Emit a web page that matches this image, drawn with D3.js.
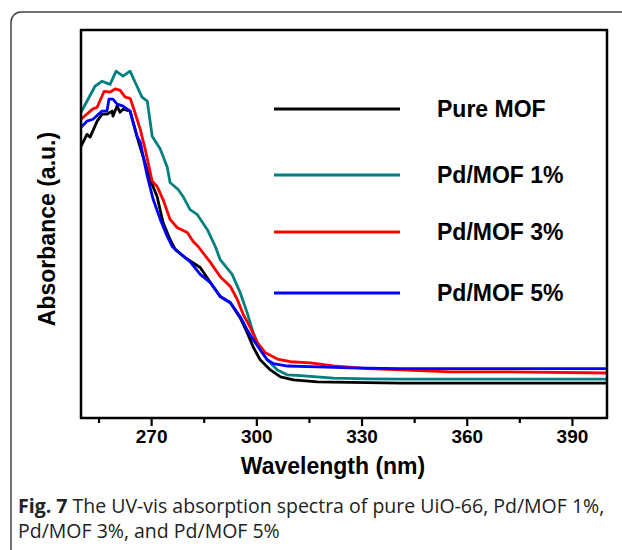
<!DOCTYPE html>
<html>
<head>
<meta charset="utf-8">
<script src="https://cdn.jsdelivr.net/npm/d3@7"></script>
<style>
  body { margin: 0; background: #fff; }
  text { font-family: "Liberation Sans", Arial, sans-serif; }
</style>
</head>
<body>
<div id="chart"></div>
<script>

// spectra (wavelength in nm, absorbance in a.u.)
var pureNm  = [250, 251.7, 252.6, 254.6, 256, 257.4, 258.9, 259.1, 260.3, 261.1, 262, 264, 266, 267.7, 269.7, 271.7, 273.4, 275.4, 276.9, 279.7, 284, 286.9, 289.7, 292.6, 295.4, 297.4, 299.1, 301.1, 304, 306.9, 310.6, 317.4, 341.1, 370, 400];
var pureAbs = [0.700, 0.731, 0.724, 0.765, 0.783, 0.783, 0.791, 0.778, 0.804, 0.788, 0.796, 0.791, 0.724, 0.674, 0.615, 0.571, 0.504, 0.460, 0.434, 0.413, 0.388, 0.349, 0.313, 0.297, 0.258, 0.220, 0.183, 0.150, 0.124, 0.106, 0.098, 0.093, 0.090, 0.090, 0.090];

var pd1Nm  = [250, 254, 256, 258.3, 260, 262, 264, 265.4, 267.4, 268.9, 270.3, 272.6, 274.6, 275.4, 277.7, 279.1, 281.1, 283.1, 286, 288.3, 289.7, 293.1, 295.4, 297.4, 299.1, 301.1, 303.1, 306, 308.9, 312.6, 322, 331.7, 341.1, 355.4, 369.7, 400];
var pd1Abs = [0.788, 0.855, 0.868, 0.860, 0.894, 0.881, 0.894, 0.866, 0.827, 0.817, 0.726, 0.693, 0.646, 0.607, 0.589, 0.571, 0.537, 0.525, 0.486, 0.442, 0.408, 0.370, 0.323, 0.271, 0.220, 0.176, 0.150, 0.124, 0.111, 0.109, 0.103, 0.101, 0.100, 0.100, 0.100, 0.100];

var pd3Nm  = [250, 253.3, 254.6, 256.6, 258.3, 259.7, 261.1, 262.6, 264, 264.9, 266.9, 268.3, 270.3, 271.7, 273.4, 275.4, 277.4, 280.3, 282, 283.4, 286.9, 289.7, 292.6, 294.6, 296.3, 298.3, 300.3, 302.6, 306, 309.7, 315.4, 322, 331.7, 341.1, 355.4, 369.7, 400];
var pd3Abs = [0.770, 0.796, 0.801, 0.842, 0.840, 0.848, 0.845, 0.827, 0.824, 0.801, 0.744, 0.693, 0.610, 0.597, 0.563, 0.512, 0.491, 0.478, 0.455, 0.442, 0.401, 0.364, 0.339, 0.305, 0.266, 0.233, 0.194, 0.168, 0.152, 0.145, 0.142, 0.134, 0.127, 0.124, 0.119, 0.119, 0.116];

var pd5Nm  = [250, 251.7, 253.4, 256, 257.4, 258, 259.1, 260.3, 262, 264, 266, 266.9, 268.9, 270.6, 272.6, 274.6, 276, 278.3, 281.1, 284, 286.9, 289.7, 292.6, 295.4, 297.4, 299.1, 301.1, 303.1, 304.9, 308.9, 317.4, 326.9, 341.1, 369.7, 400];
var pd5Abs = [0.749, 0.765, 0.770, 0.791, 0.791, 0.822, 0.822, 0.809, 0.804, 0.791, 0.726, 0.711, 0.623, 0.563, 0.512, 0.468, 0.442, 0.424, 0.403, 0.370, 0.349, 0.313, 0.297, 0.261, 0.227, 0.202, 0.176, 0.150, 0.140, 0.134, 0.132, 0.129, 0.127, 0.127, 0.127];

var seriesNames  = ["Pure MOF", "Pd/MOF 1%", "Pd/MOF 3%", "Pd/MOF 5%"];
var seriesColors = ["#000000", "#008080", "#ff0000", "#0000ff"];

var majorTicks = [270, 300, 330, 360, 390];
var minorTicks = [255, 285, 315, 345, 375];

var caption1 = "The UV-vis absorption spectra of pure UiO-66, Pd/MOF 1%,";
var caption2 = "Pd/MOF 3%, and Pd/MOF 5%";

// set the dimensions of the plot box
var W = 622, H = 550;
var box = {left: 81, right: 607, top: 30, bottom: 418};

var svg = d3.select("#chart")
  .append("svg")
    .attr("width", W)
    .attr("height", H);

svg.append("rect")
  .attr("width", W).attr("height", H)
  .attr("fill", "#fff");

// rounded frame around the figure (only top and left visible)
svg.append("rect")
  .attr("x", 11).attr("y", 12)
  .attr("width", 800).attr("height", 800)
  .attr("rx", 10)
  .attr("fill", "none")
  .attr("stroke", "#444")
  .attr("stroke-width", 1.5);

var x = d3.scaleLinear()
  .domain([250, 400])
  .range([box.left, box.right]);

var y = d3.scaleLinear()
  .domain([0, 1])
  .range([box.bottom, box.top]);

// x axis: major ticks with labels, minor ticks without
svg.append("g")
  .attr("transform", "translate(0," + box.bottom + ")")
  .call(d3.axisBottom(x).tickValues(majorTicks).tickSize(8).tickPadding(4).tickFormat(d3.format("d")))
  .call(function(g) {
    g.select(".domain").remove();
    g.selectAll(".tick line").attr("stroke-width", 2.2);
    g.selectAll(".tick text")
      .attr("font-family", "Liberation Sans, Arial, sans-serif")
      .attr("font-weight", "bold")
      .attr("font-size", 19)
      .attr("fill", "#000");
  });

svg.append("g")
  .attr("transform", "translate(0," + box.bottom + ")")
  .call(d3.axisBottom(x).tickValues(minorTicks).tickSize(5).tickFormat(""))
  .call(function(g) {
    g.select(".domain").remove();
    g.selectAll(".tick line").attr("stroke-width", 2.2);
  });

var line = d3.line()
  .x(function(d) { return x(d[0]); })
  .y(function(d) { return y(d[1]); });

var allNm  = [pureNm, pd1Nm, pd3Nm, pd5Nm];
var allAbs = [pureAbs, pd1Abs, pd3Abs, pd5Abs];

var series = seriesNames.map(function(name, i) {
  return {
    name: name,
    color: seriesColors[i],
    values: d3.zip(allNm[i], allAbs[i])
  };
});

svg.append("g")
  .selectAll("path")
  .data(series)
  .enter()
  .append("path")
    .attr("d", function(d) { return line(d.values); })
    .attr("fill", "none")
    .attr("stroke", function(d) { return d.color; })
    .attr("stroke-width", 2.8)
    .attr("stroke-linejoin", "round");

// plot box
svg.append("rect")
  .attr("x", box.left).attr("y", box.top)
  .attr("width", box.right - box.left).attr("height", box.bottom - box.top)
  .attr("fill", "none")
  .attr("stroke", "#000")
  .attr("stroke-width", 2.5);

// legend
var legendY = [109, 175, 232, 293];
var legend = svg.append("g")
  .selectAll("g")
  .data(series)
  .enter()
  .append("g")
    .attr("transform", function(d, i) { return "translate(0," + legendY[i] + ")"; });

legend.append("line")
  .attr("x1", 274).attr("x2", 400)
  .attr("stroke", function(d) { return d.color; })
  .attr("stroke-width", 3);

legend.append("text")
  .attr("x", 437)
  .attr("y", 8)
  .attr("font-weight", "bold")
  .attr("font-size", 23)
  .text(function(d) { return d.name; });

// axis titles
svg.append("text")
  .attr("x", 333)
  .attr("y", 474)
  .attr("text-anchor", "middle")
  .attr("font-weight", "bold")
  .attr("font-size", 23)
  .text("Wavelength (nm)");

svg.append("text")
  .attr("transform", "translate(55,229) rotate(-90)")
  .attr("text-anchor", "middle")
  .attr("font-weight", "bold")
  .attr("font-size", 23)
  .text("Absorbance (a.u.)");

// caption
var cap = svg.append("text")
  .attr("x", 18)
  .attr("y", 513)
  .attr("font-size", 19.5)
  .attr("fill", "#222")
  .style("font-family", "'Open Sans', sans-serif");
cap.append("tspan").attr("font-weight", "bold").text("Fig. 7");
cap.append("tspan").text(" " + caption1);

svg.append("text")
  .attr("x", 18)
  .attr("y", 538)
  .attr("font-size", 19.5)
  .attr("fill", "#222")
  .style("font-family", "'Open Sans', sans-serif")
  .text(caption2);

</script>
</body>
</html>
